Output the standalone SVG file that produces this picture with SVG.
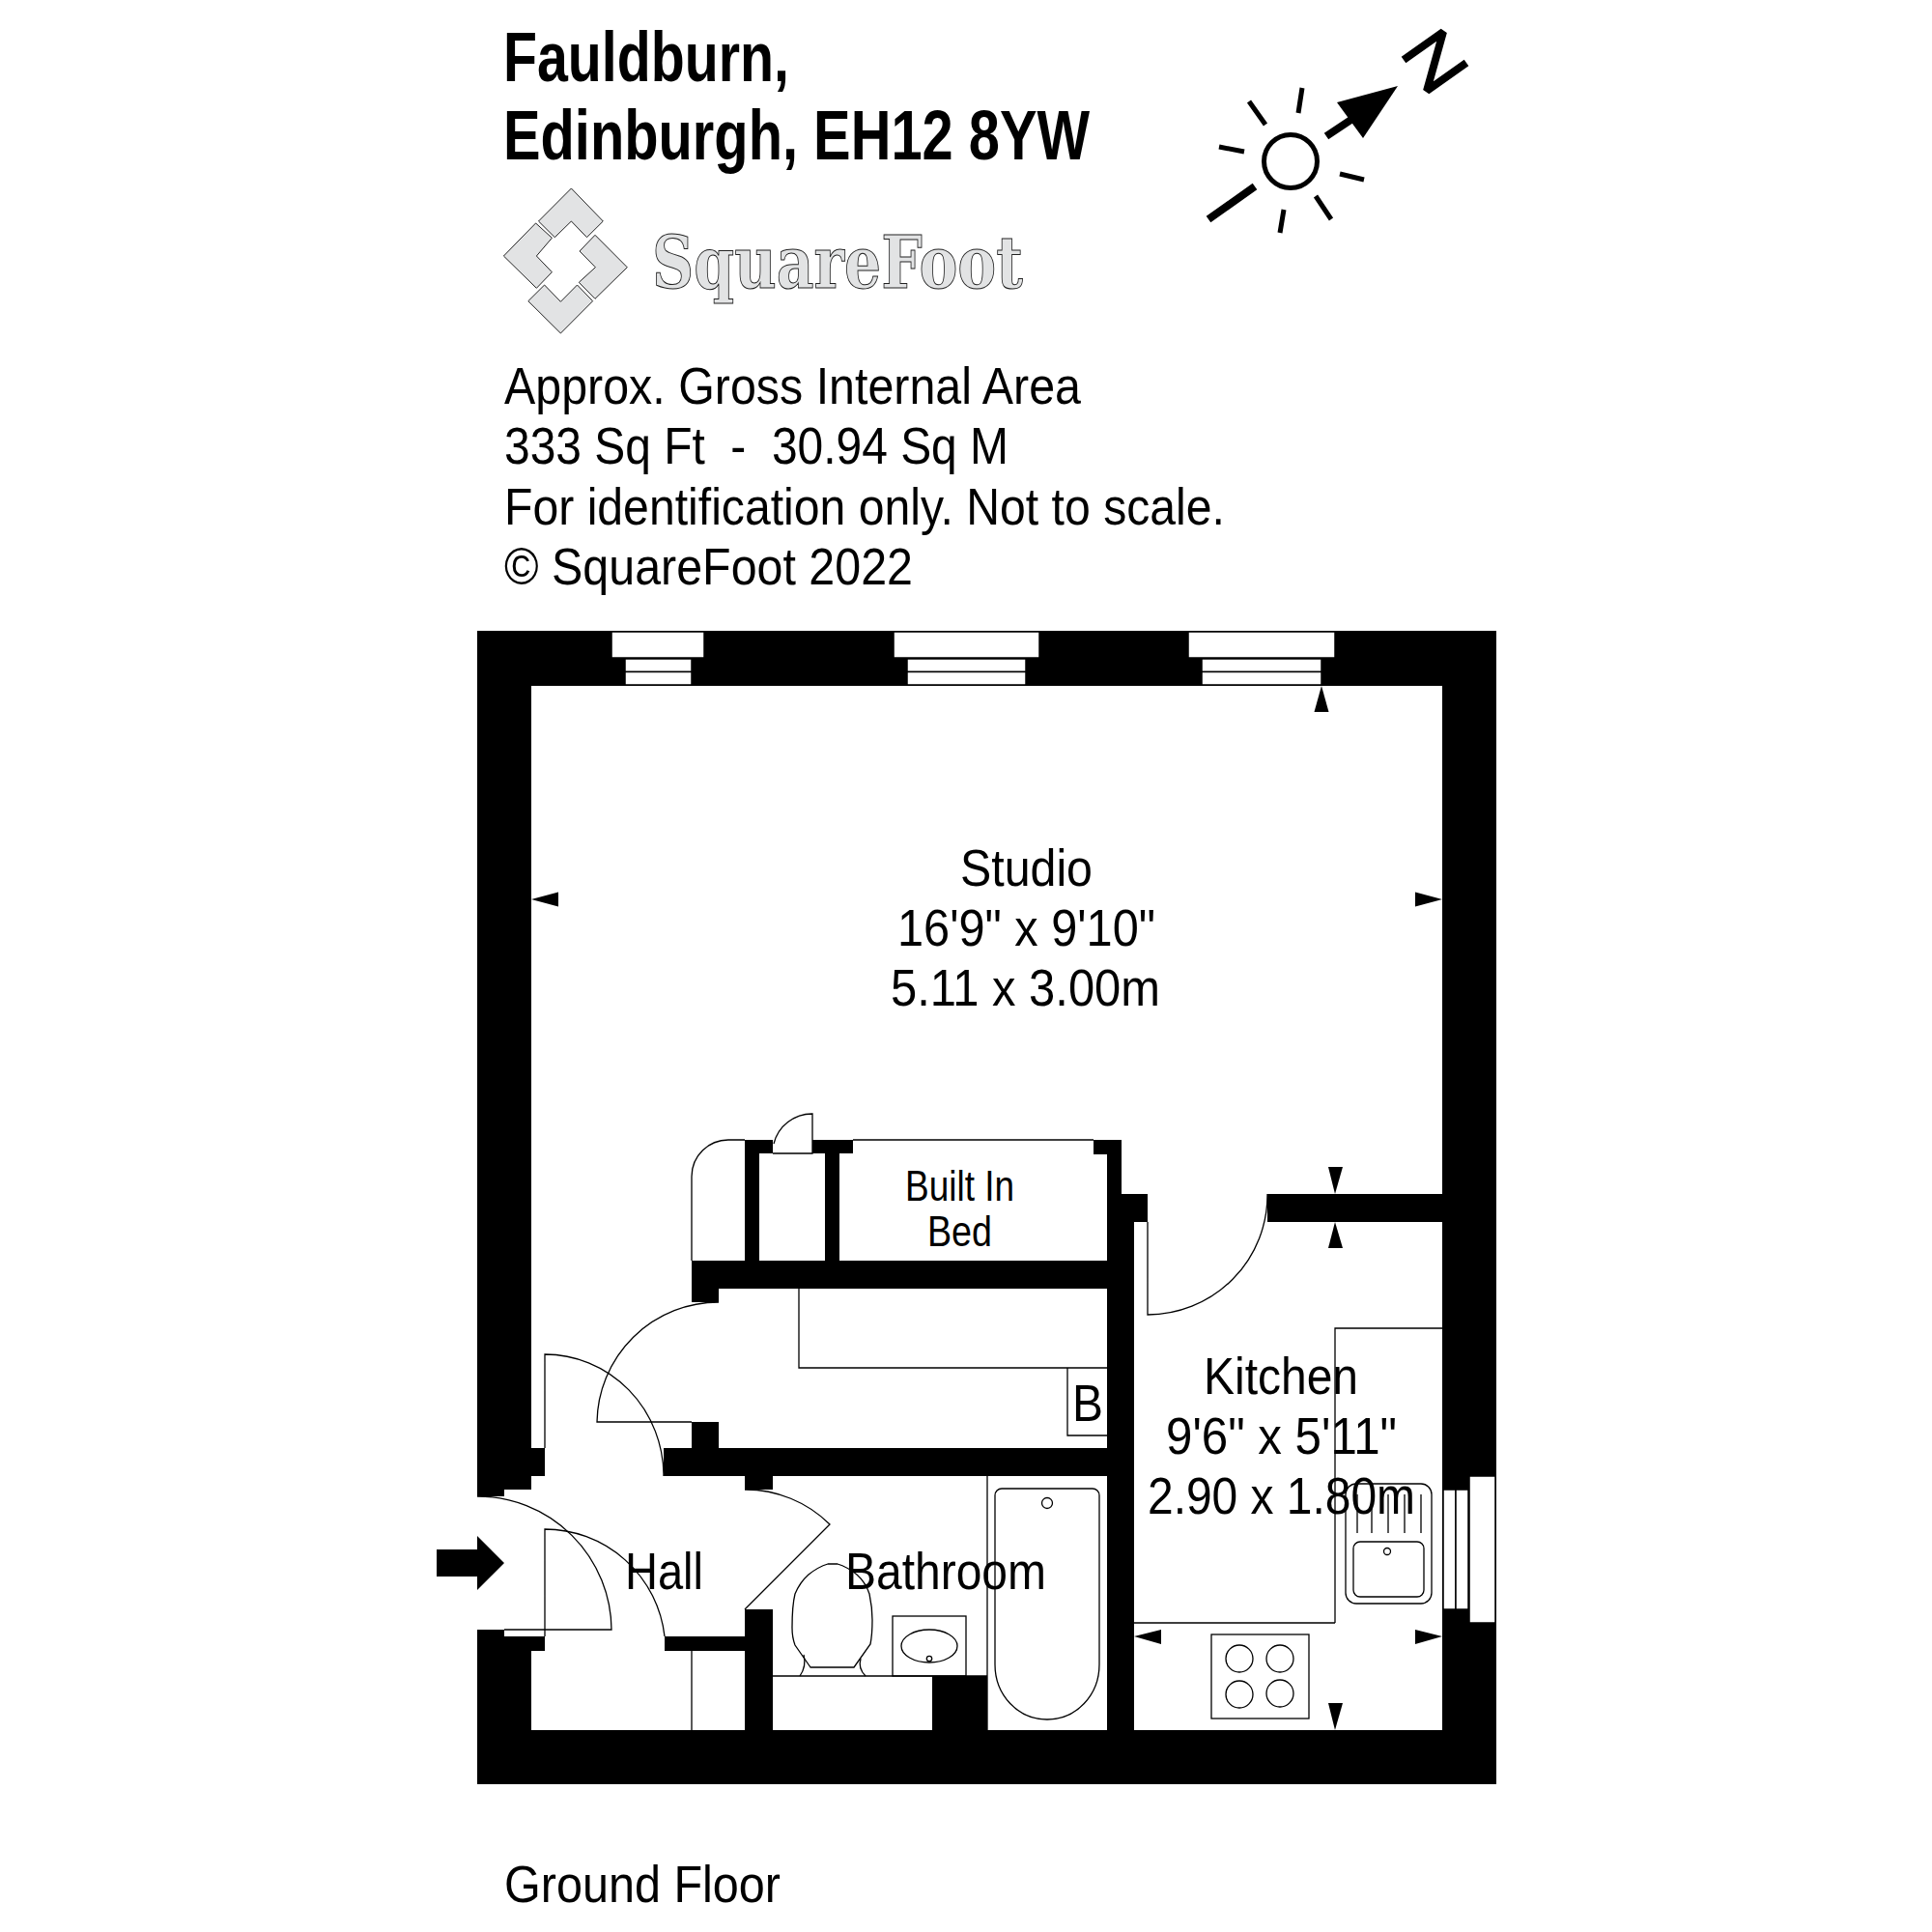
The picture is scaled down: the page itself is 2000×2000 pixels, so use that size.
<svg xmlns="http://www.w3.org/2000/svg" width="2000" height="2000" viewBox="0 0 2000 2000">
<style>
text{font-family:"Liberation Sans",Arial,sans-serif;fill:#000;white-space:pre}
.h{font-weight:bold;font-size:72px}
.t{font-size:54px}
.s{font-size:44px}
.w{fill:#000;stroke:none}
.o{fill:#fff;stroke:#000;stroke-width:1.5}
.l{fill:none;stroke:#000;stroke-width:1.3}
.r{fill:none;stroke:#000;stroke-width:5}
.g{fill:#e2e3e4;stroke:#222;stroke-width:1}
</style>
<rect width="2000" height="2000" fill="#fff"/>
<g id="heading">
<text class="h" x="521" y="84" textLength="296" lengthAdjust="spacingAndGlyphs">Fauldburn,</text>
<text class="h" x="521" y="165" textLength="607" lengthAdjust="spacingAndGlyphs">Edinburgh, EH12 8YW</text>
</g>
<g id="compass">
<circle cx="1336" cy="167" r="27.5" class="r"/>
<path class="r" d="M1293 105L1310 129M1348 91L1344 117M1262 152L1288 157M1387 180L1412 186M1329 217L1325 241M1362 203L1378 227"/>
<path class="r" style="stroke-width:8" d="M1299 193L1251 227M1373 141L1400 123"/>
<polygon points="1447,89 1384,106 1411,143" fill="#000"/>
<polyline points="1453,62 1494,33 1477,94 1518,65" fill="none" stroke="#000" stroke-width="8" stroke-linejoin="bevel"/>
</g>
<g id="logo">
<polygon class="g" points="591.4,195 624.3,229 607.5,245.7 591.4,229 574.3,245.7 557.5,229"/>
<polygon class="g" points="521.4,265 554.6,231 571.4,246.3 555.4,265 571.4,281.7 555.4,298.3"/>
<polygon class="g" points="649.3,276.7 616,243.3 600,260 616.4,276.7 599.3,292.3 616,309.3"/>
<polygon class="g" points="580.4,345 546.8,311.7 563.6,295 580.4,312.3 597.5,295 613.6,311.7"/>
<text x="675" y="298" font-size="75" textLength="384" lengthAdjust="spacingAndGlyphs" style="font-family:'DejaVu Serif',serif;font-weight:bold;fill:#e2e3e4;stroke:#222;stroke-width:1">SquareFoot</text>
</g>
<g id="info">
<text class="t" x="522" y="418" textLength="597" lengthAdjust="spacingAndGlyphs">Approx. Gross Internal Area</text>
<text class="t" x="522" y="480" textLength="522" lengthAdjust="spacingAndGlyphs">333 Sq Ft  -  30.94 Sq M</text>
<text class="t" x="522" y="543" textLength="746" lengthAdjust="spacingAndGlyphs">For identification only. Not to scale.</text>
<text class="t" x="522" y="605" textLength="423" lengthAdjust="spacingAndGlyphs">© SquareFoot 2022</text>
</g>
<g id="walls">
<path class="w" d="M494 653H1549V1847H494V1687H522V1694H564V1709H550V1791H716V1709H688V1694H771V1666H800V1791H965V1735H1022V1791H1146V1528H800V1542H771V1528H687V1499H716V1472H744V1499H1146V1334H744V1348H716V1305H771V1180H800V1194H786V1305H854V1194H841V1180H883V1194H869V1305H1146V1195H1132V1180H1161V1236H1188V1265H1174V1791H1493V710H550V1499H564V1528H550V1542H522V1549H494Z M1493 1236V1265H1312V1236Z" fill-rule="evenodd"/>
<rect x="716" y="1709" width="55" height="82" fill="#fff"/>
<rect x="550" y="1709" width="221" height="82" fill="#fff"/>
<rect x="771" y="1666" width="29" height="125" fill="#000"/>
<rect x="1312" y="1236" width="181" height="29" fill="#000"/>
</g>
<g id="windows">
<rect class="o" x="633" y="654" width="96" height="27"/>
<rect class="o" x="647" y="682" width="69" height="13.5"/>
<rect class="o" x="647" y="695.5" width="69" height="13.5"/>
<rect class="o" x="925" y="654" width="151" height="27"/>
<rect class="o" x="939" y="682" width="123" height="13.5"/>
<rect class="o" x="939" y="695.5" width="123" height="13.5"/>
<rect class="o" x="1230" y="654" width="152" height="27"/>
<rect class="o" x="1244" y="682" width="124" height="13.5"/>
<rect class="o" x="1244" y="695.5" width="124" height="13.5"/>
<rect class="o" x="1521" y="1528" width="27" height="152"/>
<rect class="o" x="1494" y="1542" width="13" height="124"/>
<rect class="o" x="1507" y="1542" width="13" height="124"/>
</g>
<g id="doors">
<path class="l" d="M522 1687H633A139 139 0 0 0 494 1549"/>
<path class="l" d="M564 1694V1583A125 125 0 0 1 688 1694"/>
<path class="l" d="M564 1499V1402A123 126 0 0 1 687 1528"/>
<path class="l" d="M716 1472H618A126 126 0 0 1 744 1348"/>
<path class="l" d="M771 1666L859 1578A124 124 0 0 0 771 1542"/>
<path class="l" d="M800 1194H841V1153A41 41 0 0 0 801 1184"/>
<path class="l" d="M716 1305V1218A38 38 0 0 1 755 1180H771"/>
<path class="l" d="M1188 1265V1361A124 124 0 0 0 1312 1236"/>
</g>
<g id="fittings">
<path class="l" d="M883 1180H1132"/>
<path class="l" d="M827 1334V1416H1146M1105 1416V1486H1146"/>
<path class="l" d="M716 1709V1791"/>
<path class="l" d="M1022 1528V1791M800 1735H1022"/>
<path class="l" d="M1030 1548A7 7 0 0 1 1037 1541H1131A7 7 0 0 1 1138 1548V1723C1138 1755 1114 1780 1084 1780C1054 1780 1030 1755 1030 1723Z"/>
<circle class="l" cx="1084" cy="1556" r="5.5"/>
<rect class="l" x="924" y="1673" width="76" height="62"/>
<ellipse class="l" cx="962" cy="1704" rx="29" ry="17"/>
<circle class="l" cx="962" cy="1717" r="2.7"/>
<path class="l" d="M839 1726L823 1703Q820 1695 820 1685Q820 1662 823 1650Q828 1638 837 1630Q847 1622 857 1619H867Q877 1622 887 1630Q896 1638 900 1650Q903 1664 903 1677Q903 1692 901 1702L884 1726Z"/>
<path class="l" d="M832 1713Q835 1725 828 1735M891 1717Q888 1727 896 1735"/>
<path class="l" d="M1382 1680V1375H1493M1174 1680H1382"/>
<rect class="l" x="1393" y="1536" width="89" height="124" rx="11"/>
<rect class="l" x="1401" y="1596" width="73" height="57" rx="7"/>
<circle class="l" cx="1436" cy="1606" r="3.5"/>
<path class="l" d="M1405 1547V1587M1420 1547V1587M1437 1547V1587M1454 1547V1587M1471 1547V1587"/>
<rect class="l" x="1254" y="1692" width="101" height="87"/>
<circle class="l" cx="1283" cy="1717" r="14"/>
<circle class="l" cx="1325" cy="1717" r="14"/>
<circle class="l" cx="1283" cy="1754" r="14"/>
<circle class="l" cx="1325" cy="1753" r="14"/>
</g>
<g id="markers" fill="#000">
<polygon points="1368,710 1360.500,737 1375.500,737"/>
<polygon points="550,931 578,923.500 578,938.500"/>
<polygon points="1493,931 1465,923.500 1465,938.500"/>
<polygon points="1382,1236 1375,1208 1390,1208"/>
<polygon points="1382,1265 1375,1292 1390,1292"/>
<polygon points="1174,1694 1202,1687 1202,1702"/>
<polygon points="1493,1694 1465,1687 1465,1702"/>
<polygon points="1382,1791 1375,1763 1390,1763"/>
</g>
<polygon id="entry" points="452,1604 494,1604 494,1590 522,1618 494,1646 494,1632 452,1632" fill="#000"/>
<g id="labels">
<text class="t" x="994" y="917" textLength="137" lengthAdjust="spacingAndGlyphs">Studio</text>
<text class="t" x="929" y="979" textLength="267" lengthAdjust="spacingAndGlyphs">16'9" x 9'10"</text>
<text class="t" x="922" y="1041" textLength="279" lengthAdjust="spacingAndGlyphs">5.11 x 3.00m</text>
<text class="s" x="937" y="1243" textLength="113" lengthAdjust="spacingAndGlyphs">Built In</text>
<text class="s" x="960" y="1290" textLength="67" lengthAdjust="spacingAndGlyphs">Bed</text>
<text class="t" x="1110" y="1471" textLength="32" lengthAdjust="spacingAndGlyphs">B</text>
<text class="t" x="1246" y="1443" textLength="160" lengthAdjust="spacingAndGlyphs">Kitchen</text>
<text class="t" x="1207" y="1505" textLength="239" lengthAdjust="spacingAndGlyphs">9'6" x 5'11"</text>
<text class="t" x="1188" y="1567" textLength="277" lengthAdjust="spacingAndGlyphs">2.90 x 1.80m</text>
<text class="t" x="647" y="1645" textLength="81" lengthAdjust="spacingAndGlyphs">Hall</text>
<text class="t" x="875" y="1645" textLength="208" lengthAdjust="spacingAndGlyphs">Bathroom</text>
<text class="t" x="522" y="1969" textLength="286" lengthAdjust="spacingAndGlyphs">Ground Floor</text>
</g>
</svg>
